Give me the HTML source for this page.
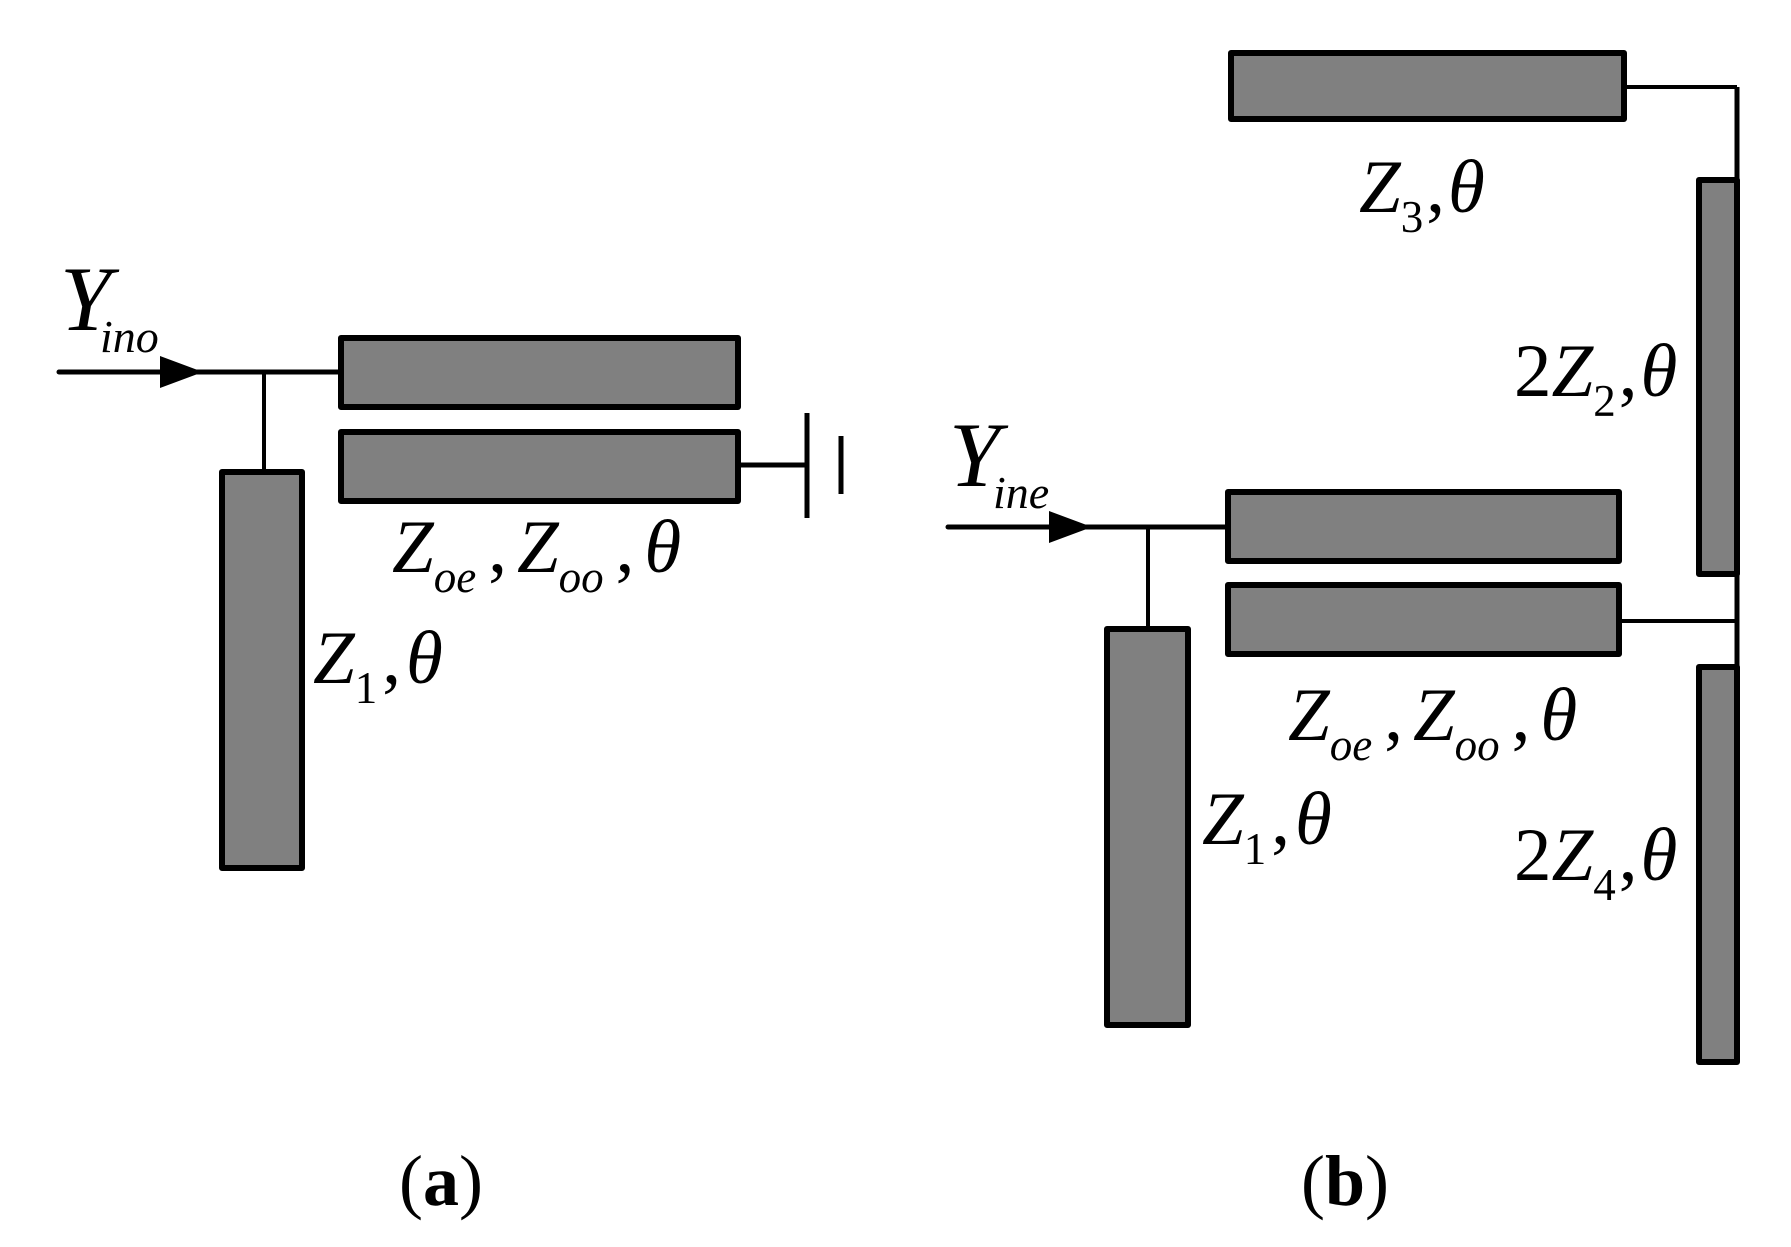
<!DOCTYPE html>
<html><head><meta charset="utf-8"><style>html,body{margin:0;padding:0;background:#fff}svg{display:block}</style></head>
<body>
<svg width="1791" height="1247" viewBox="0 0 1791 1247" xmlns="http://www.w3.org/2000/svg" font-family="Liberation Serif, serif">
<g stroke="#000" stroke-linejoin="round">
<!-- (a) -->
<line x1="59" y1="372" x2="340" y2="372" stroke-width="5" stroke-linecap="round"/>
<line x1="264" y1="372" x2="264" y2="472" stroke-width="4"/>
<polygon points="160,356 203,372 160,388" fill="#000" stroke="none"/>
<rect x="341" y="338" width="397" height="69" fill="#808080" stroke-width="6"/>
<rect x="341" y="432" width="397" height="69" fill="#808080" stroke-width="6"/>
<rect x="222" y="472" width="80" height="396" fill="#808080" stroke-width="6"/>
<line x1="738" y1="465" x2="807" y2="465" stroke-width="5"/>
<line x1="807" y1="413" x2="807" y2="518" stroke-width="5"/>
<line x1="841" y1="436" x2="841" y2="494" stroke-width="5"/>
</g>
<g transform="translate(-7,0)">
<g stroke="#000" stroke-linejoin="round">
<line x1="955" y1="527" x2="1235" y2="527" stroke-width="5" stroke-linecap="round"/>
<line x1="1155" y1="527" x2="1155" y2="629" stroke-width="4"/>
<polygon points="1056,511 1099,527 1056,543" fill="#000" stroke="none"/>
<rect x="1235" y="492" width="391" height="69" fill="#808080" stroke-width="6"/>
<rect x="1235" y="585" width="391" height="69" fill="#808080" stroke-width="6"/>
<rect x="1114" y="629" width="81" height="396" fill="#808080" stroke-width="6"/>
<rect x="1238" y="53" width="393" height="66" fill="#808080" stroke-width="6"/>
<line x1="1631" y1="87" x2="1744" y2="87" stroke-width="4"/>
<line x1="1744" y1="87" x2="1744" y2="667" stroke-width="5"/>
<line x1="1626" y1="621" x2="1744" y2="621" stroke-width="4"/>
<rect x="1706" y="180" width="38" height="394" fill="#808080" stroke-width="6"/>
<rect x="1706" y="667" width="38" height="395" fill="#808080" stroke-width="6"/>
</g>
<g fill="#000" font-style="italic">
<text x="956" y="486" font-size="92">Y</text>
<text x="1000" y="508" font-size="46">ine</text>
<text x="1295" y="740" font-size="75">Z<tspan font-size="45" dy="20">oe</tspan><tspan dy="-20" dx="12" font-style="normal">,</tspan><tspan dx="10">Z</tspan><tspan font-size="45" dy="20">oo</tspan><tspan dy="-20" dx="12" font-style="normal">,</tspan><tspan dx="10">θ</tspan></text>
<text x="1209" y="844" font-size="75">Z<tspan font-size="45" dy="20" font-style="normal">1</tspan><tspan dy="-20" dx="5" font-style="normal">,</tspan><tspan dx="5">θ</tspan></text>
<text x="1366" y="212" font-size="75">Z<tspan font-size="45" dy="20" font-style="normal">3</tspan><tspan dy="-20" dx="3" font-style="normal">,</tspan><tspan dx="3">θ</tspan></text>
<text x="1521" y="396" font-size="75"><tspan font-style="normal">2</tspan>Z<tspan font-size="45" dy="20" font-style="normal">2</tspan><tspan dy="-20" dx="3" font-style="normal">,</tspan><tspan dx="3">θ</tspan></text>
<text x="1521" y="880" font-size="75"><tspan font-style="normal">2</tspan>Z<tspan font-size="45" dy="20" font-style="normal">4</tspan><tspan dy="-20" dx="3" font-style="normal">,</tspan><tspan dx="3">θ</tspan></text>
</g>
</g>
<g fill="#000" font-style="italic">
<text x="60" y="330" font-size="92">Y</text>
<text x="100" y="352" font-size="46">ino</text>
<text x="392" y="572" font-size="75">Z<tspan font-size="45" dy="20">oe</tspan><tspan dy="-20" dx="12" font-style="normal">,</tspan><tspan dx="10">Z</tspan><tspan font-size="45" dy="20">oo</tspan><tspan dy="-20" dx="12" font-style="normal">,</tspan><tspan dx="10">θ</tspan></text>
<text x="313" y="683" font-size="75">Z<tspan font-size="45" dy="20" font-style="normal">1</tspan><tspan dy="-20" dx="5" font-style="normal">,</tspan><tspan dx="5">θ</tspan></text>
</g>
<text x="441" y="1205" font-size="72" text-anchor="middle">(<tspan font-weight="bold">a</tspan>)</text>
<text x="1345" y="1205" font-size="72" text-anchor="middle">(<tspan font-weight="bold">b</tspan>)</text>
</svg>
</body></html>
